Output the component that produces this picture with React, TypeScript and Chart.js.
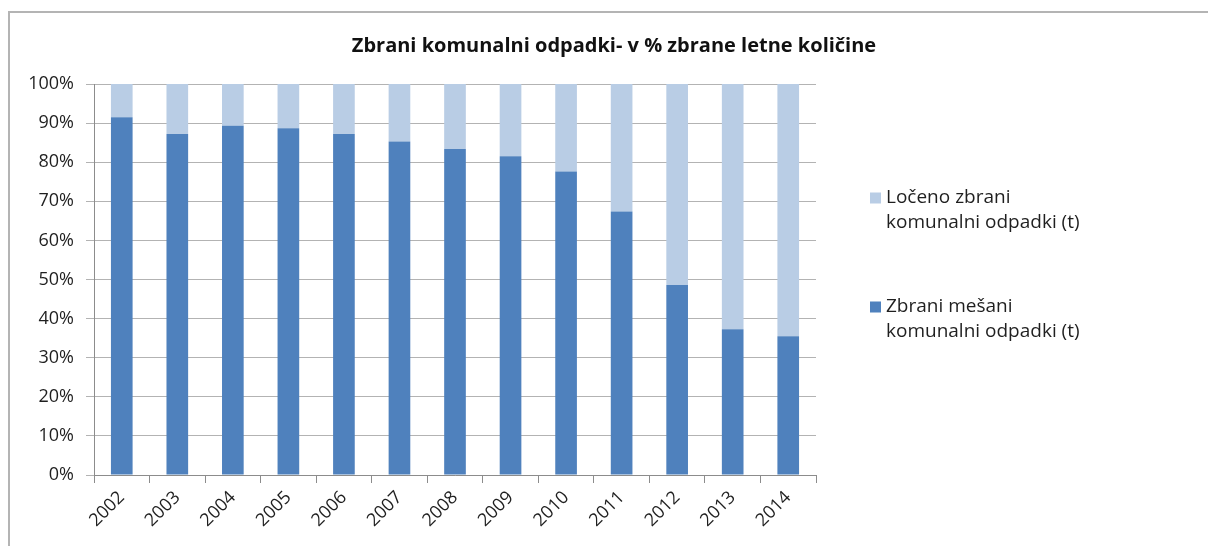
import React, { useEffect, useRef } from "react";
import { Chart, registerables } from "chart.js";

Chart.register(...registerables);

const TITLE = "Zbrani komunalni odpadki- v % zbrane letne količine";
const YEARS = ["2002", "2003", "2004", "2005", "2006", "2007", "2008", "2009", "2010", "2011", "2012", "2013", "2014"];
const MIXED = [91.5, 87.2, 89.3, 88.7, 87.2, 85.3, 83.4, 81.5, 77.6, 67.4, 48.6, 37.3, 35.5];
const SEPARATE = [8.5, 12.8, 10.7, 11.3, 12.8, 14.7, 16.6, 18.5, 22.4, 32.6, 51.4, 62.7, 64.5];
const MIXED_LABEL = ["Zbrani mešani", "komunalni odpadki (t)"];
const SEPARATE_LABEL = ["Ločeno zbrani", "komunalni odpadki (t)"];
const Y_TICKS = [0, 10, 20, 30, 40, 50, 60, 70, 80, 90, 100];

const DARK = "#4F81BD";
const LIGHT = "#B9CDE5";
const FONT = "'Open Sans', 'DejaVu Sans', sans-serif";

const decorPlugin = {
  id: "decor",
  afterDraw(chart: any) {
    const ctx = chart.ctx as CanvasRenderingContext2D;
    ctx.save();
    // title
    ctx.fillStyle = "#111111";
    ctx.font = `bold 20px ${FONT}`;
    ctx.textAlign = "center";
    ctx.textBaseline = "middle";
    ctx.fillText(TITLE, 614, 46);
    // legend
    const items = [
      { color: LIGHT, lines: SEPARATE_LABEL, y: 197.5 },
      { color: DARK, lines: MIXED_LABEL, y: 306.5 },
    ];
    ctx.textAlign = "left";
    ctx.font = `19px ${FONT}`;
    for (const it of items) {
      ctx.fillStyle = it.color;
      ctx.fillRect(870, it.y - 5, 11, 11);
      ctx.fillStyle = "#1f1f1f";
      it.lines.forEach((ln, i) => ctx.fillText(ln, 886, it.y + i * 25.5));
    }
    ctx.restore();
  },
};

function App() {
  const ref = useRef<HTMLCanvasElement>(null);
  useEffect(() => {
    if (!ref.current) return;
    const chart = new Chart(ref.current, {
      type: "bar",
      data: {
        labels: YEARS,
        datasets: [
          { label: MIXED_LABEL.join(" "), data: MIXED, backgroundColor: DARK, barPercentage: 0.39, categoryPercentage: 1 },
          { label: SEPARATE_LABEL.join(" "), data: SEPARATE, backgroundColor: LIGHT, barPercentage: 0.39, categoryPercentage: 1 },
        ],
      },
      options: {
        animation: false,
        responsive: false,
        maintainAspectRatio: false,
        layout: { padding: { top: 84, right: 392, bottom: 0, left: 0 } },
        plugins: { legend: { display: false }, title: { display: false }, tooltip: { enabled: false } },
        scales: {
          x: {
            stacked: true,
            offset: true,
            grid: { display: true, drawOnChartArea: false, offset: true, color: "#8c8c8c", tickLength: 8 },
            border: { display: true, color: "#8c8c8c" },
            ticks: {
              color: "#1f1f1f",
              font: { family: FONT, size: 18 },
              maxRotation: 45,
              minRotation: 45,
              padding: 4,
              autoSkip: false,
            },
            afterFit(s: any) {
              s.height = 71;
            },
          },
          y: {
            stacked: true,
            min: 0,
            max: 100,
            afterBuildTicks(s: any) {
              s.ticks = Y_TICKS.map((v) => ({ value: v }));
            },
            grid: { color: "#b3b3b3", tickLength: 8 },
            border: { display: true, color: "#8c8c8c" },
            ticks: {
              color: "#1f1f1f",
              font: { family: FONT, size: 18 },
              padding: 12,
              callback: (v: any) => `${v}%`,
            },
            afterFit(s: any) {
              s.width = 94;
            },
          },
        },
      },
      plugins: [decorPlugin],
    });
    return () => chart.destroy();
  }, []);
  return (
    <div style={{ position: "fixed", left: 0, top: 0, width: 1208, height: 546, background: "#fff" }}>
      <canvas ref={ref} width={1208} height={546} style={{ position: "absolute", left: 0, top: 0 }} />
      <div
        style={{
          position: "absolute",
          left: 8,
          top: 11,
          width: 1200,
          height: 535,
          borderTop: "2px solid #b4b4b4",
          borderLeft: "2px solid #b4b4b4",
          boxSizing: "border-box",
          pointerEvents: "none",
        }}
      />
    </div>
  );
}

export default App;
